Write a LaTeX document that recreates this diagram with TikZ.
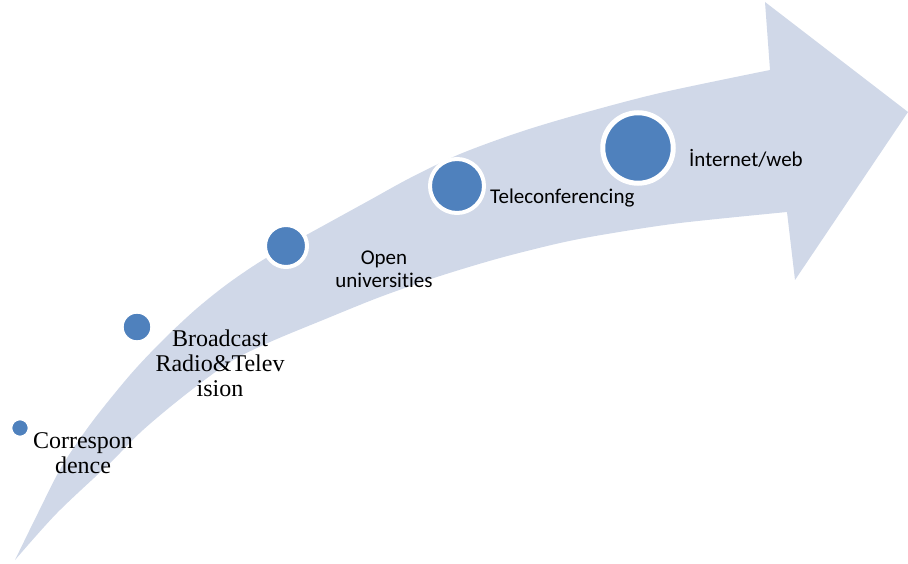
\documentclass[tikz,border=0pt]{standalone}
\usepackage{fontspec}
\setmainfont{Liberation Serif}
\newfontfamily\calib[Ligatures=NoCommon]{Carlito}
\definecolor{band}{HTML}{D0D8E8}
\definecolor{dotblue}{HTML}{4F81BD}
\begin{document}
\begin{tikzpicture}[x=1pt,y=-1pt,
  dot/.style={circle,fill=dotblue,draw=white,inner sep=0pt},
  serlab/.style={font=\fontsize{24}{25}\selectfont,inner sep=0pt,anchor=base},
  sanslab/.style={font=\calib\fontsize{21}{23}\selectfont,inner sep=0pt,anchor=base}]
\useasboundingbox (0,0) rectangle (908,564);
% curved arrow
\fill[band] plot[smooth,tension=0.5] coordinates {(15,560) (38,513) (62,466) (92,422) (130,375) (162,341) (195,310) (226,285) (258,263) (292,243) (330,222) (370,200) (410,178) (460,154) (520,132) (580,114) (660,93) (770,70)}
  -- (765,2) -- (908,112) -- (795,280)
  -- plot[smooth,tension=0.5] coordinates {(787,212) (680,223) (607,234) (560,243) (500,258) (440,276) (380,297) (323,320) (270,342) (230,362) (185,395) (143,430) (110,463) (57,513) (15,560)}
  -- cycle;
% milestones
\node[dot,line width=2pt,minimum size=17.4pt] (c1) at (20,428) {};
\node[dot,line width=2pt,minimum size=28.6pt] (c2) at (137,327) {};
\node[dot,line width=4pt,minimum size=42pt] (c3) at (286,246) {};
\node[dot,line width=4pt,minimum size=54pt] (c4) at (457,186) {};
\node[dot,line width=5pt,minimum size=70.5pt] (c5) at (638,148) {};
% labels
\node[serlab] (t1) at (83,448) {\begin{tabular}[t]{@{}c@{}}Correspon\\dence\end{tabular}};
\node[serlab] (t2) at (220,346) {\begin{tabular}[t]{@{}c@{}}Broadcast\\Radio\&Telev\\ision\end{tabular}};
\node[sanslab] (t3) at (384,265) {\begin{tabular}[t]{@{}c@{}}Open\\universities\end{tabular}};
\node[sanslab,anchor=base west] (t4) at (490,204) {Teleconferencing};
\node[sanslab,anchor=base west] (t5) at (689,167) {İnternet/web};
\end{tikzpicture}
\end{document}
